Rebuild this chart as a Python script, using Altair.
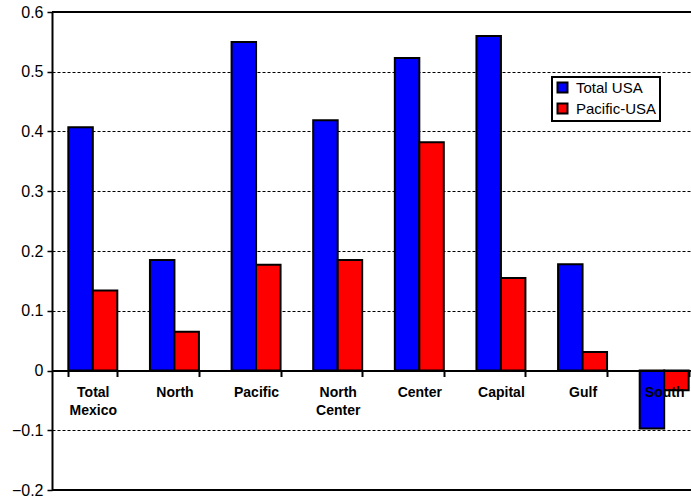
import altair as alt
import pandas as pd

regions = ["Total Mexico", "North", "Pacific", "North Center", "Center", "Capital", "Gulf", "South"]
total_usa = [0.407, 0.185, 0.550, 0.419, 0.523, 0.560, 0.178, -0.097]
pacific_usa = [0.134, 0.065, 0.177, 0.185, 0.382, 0.155, 0.031, -0.033]
series = ["Total USA", "Pacific-USA"]
colors = ["#0000FF", "#FF0000"]
y_ticks = [-0.2, -0.1, 0.0, 0.1, 0.2, 0.3, 0.4, 0.5, 0.6]

rows = []
for r, a, b in zip(regions, total_usa, pacific_usa):
    rows.append({"region": r, "series": series[0], "value": a})
    rows.append({"region": r, "series": series[1], "value": b})
df = pd.DataFrame(rows)

W, H = 639, 478
FONT = "Liberation Sans"

bars = alt.Chart(df).mark_bar(stroke="black", strokeWidth=2).encode(
    x=alt.X(
        "region:N", sort=regions,
        scale=alt.Scale(range=[0, 653], paddingInner=0.4, paddingOuter=0.2),
        axis=alt.Axis(
            title=None, offset=-119.5, labelAngle=0,
            labelExpr="split(datum.label, ' ')",
            labelFont=FONT, labelFontSize=14, labelFontWeight="bold",
            labelColor="black", labelPadding=9, labelLineHeight=18,
            labelBaseline="top", labelOverlap=False,
            tickBand="extent", tickSize=6, tickWidth=2, tickColor="black",
            domainColor="black", domainWidth=2, zindex=1, grid=False,
        ),
    ),
    xOffset=alt.XOffset("series:N", sort=series,
                        scale=alt.Scale(paddingInner=0, paddingOuter=0)),
    y=alt.Y(
        "value:Q",
        scale=alt.Scale(domain=[-0.2, 0.6], nice=False, zero=False),
        axis=alt.Axis(
            title=None, values=y_ticks,
            labelExpr="datum.value == 0 ? '0' : format(datum.value, '.1f')",
            labelFont=FONT, labelFontSize=16, labelColor="black", labelPadding=4,
            tickSize=5, tickWidth=1.5, tickColor="black",
            domainColor="black", domainWidth=2,
            grid=True, gridColor="black", gridDash=[3, 2], gridWidth=1,
        ),
    ),
    color=alt.Color(
        "series:N", sort=series,
        scale=alt.Scale(domain=series, range=colors),
        legend=alt.Legend(
            title=None, orient="none", legendX=500, legendY=65,
            symbolType="square", symbolSize=100,
            symbolStrokeColor="black", symbolStrokeWidth=2,
            labelFont=FONT, labelFontSize=15, labelColor="black",
            labelOffset=6, strokeColor="black", fillColor="white",
            padding=3, rowPadding=2,
        ),
    ),
)

frame_df = pd.DataFrame({"k": [0]})
top_line = alt.Chart(frame_df).mark_rule(color="black", strokeWidth=2).encode(
    x=alt.value(0), x2=alt.value(W), y=alt.value(0)
)
bottom_line = alt.Chart(frame_df).mark_rule(color="black", strokeWidth=2).encode(
    x=alt.value(0), x2=alt.value(W), y=alt.value(H)
)

chart = alt.layer(bars, top_line, bottom_line).properties(
    width=W, height=H,
    autosize=alt.AutoSizeParams(type="none"),
    padding={"left": 52, "top": 12, "right": 0, "bottom": 11},
    background="white",
).configure_view(stroke=None).configure_legend(strokeWidth=2)

chart.save("out.html", embed_options={"renderer": "svg", "actions": False})
